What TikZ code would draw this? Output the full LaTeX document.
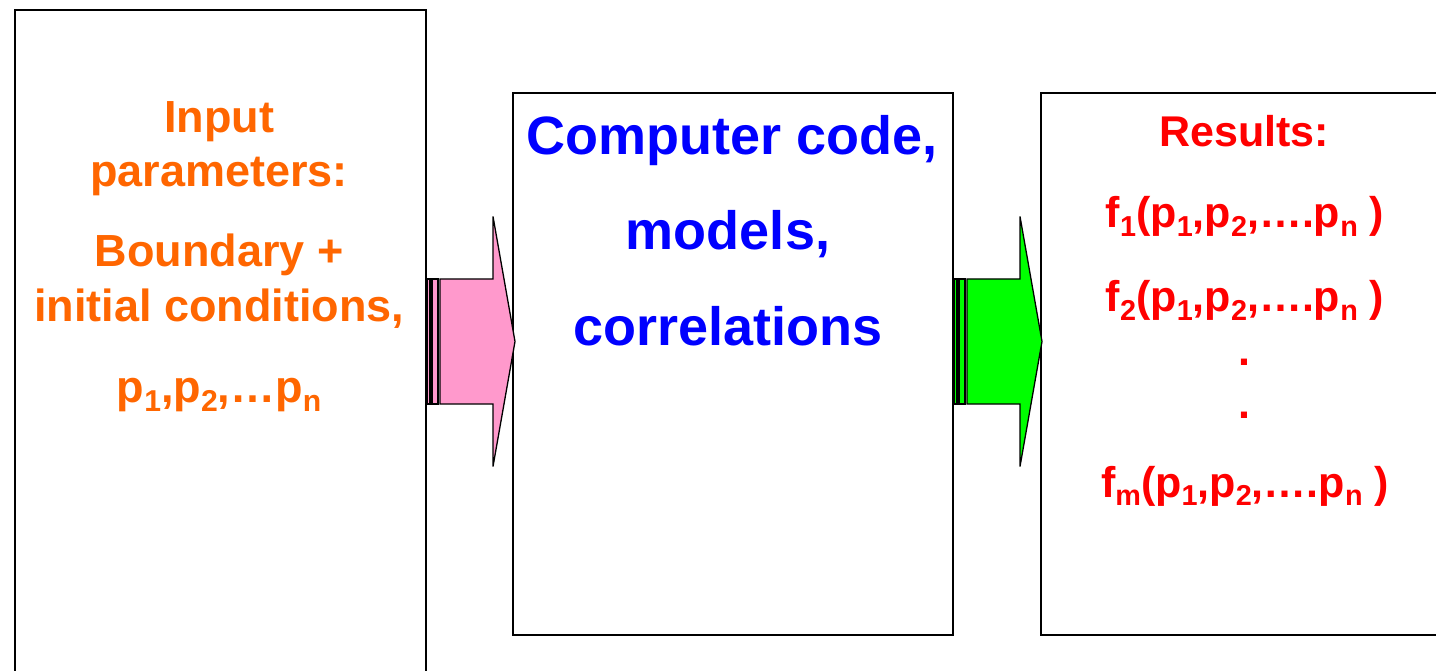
\documentclass[tikz,border=0pt]{standalone}
\usepackage{fontspec}
\setmainfont{Liberation Sans}
\usepackage{graphicx}
\definecolor{inorange}{HTML}{FF6600}
\definecolor{codeblue}{HTML}{0000FF}
\definecolor{resred}{HTML}{FF0000}
\definecolor{arrowpink}{HTML}{FF99CC}
\definecolor{arrowgreen}{HTML}{00FF00}
\newcommand\sbs[1]{\raisebox{-0.2em}{\scalebox{0.67}{#1}}}
\tikzset{
  boxframe/.style={draw=black, line width=2pt, fill=white, rectangle, inner sep=0pt, anchor=north west},
  orangetxt/.style={anchor=base, inner sep=0pt, text=inorange, font=\fontsize{45}{54}\selectfont\bfseries},
  bluetxt/.style={anchor=base, inner sep=0pt, text=codeblue, font=\fontsize{54}{64}\selectfont\bfseries},
  redtxt/.style={anchor=base, inner sep=0pt, text=resred, font=\fontsize{43}{52}\selectfont\bfseries},
  blockarrow/.pic={
    \path[pic actions] (13,-62.5) -- (66,-62.5) -- (66,-125) -- (88,0) -- (66,125) -- (66,62.5) -- (13,62.5) -- cycle;
    \path[pic actions] (0,-62.5) rectangle (3,62.5);
    \path[pic actions] (5,-62.5) rectangle (11,62.5);
  }
}
\begin{document}
\begin{tikzpicture}[x=1pt,y=-1pt]
\useasboundingbox (0,0) rectangle (1436,671);
\clip (0,0) rectangle (1436,671);
% boxes
\node[boxframe, minimum width=411pt, minimum height=680pt] (box1) at (14,9) {};
\node[boxframe, minimum width=440pt, minimum height=542pt] (box2) at (512,92) {};
\node[boxframe, minimum width=420pt, minimum height=542pt] (box3) at (1040,92) {};
% block arrows
\pic[fill=arrowpink, draw=black, line width=1.3pt] (arrowA) at (box1.east |- 0,341.5) {blockarrow};
\pic[fill=arrowgreen, draw=black, line width=1.3pt] (arrowB) at (box2.east |- 0,341.5) {blockarrow};
% input text
\node[orangetxt] (in1) at (219,133) {Input};
\node[orangetxt] (in2) at (219,187) {parameters:};
\node[orangetxt] (in3) at (219,267) {Boundary +};
\node[orangetxt] (in4) at (219,322) {initial conditions,};
\node[orangetxt] (in5) at (219,402) {p\sbs{1},p\sbs{2},…p\sbs{n}};
% code text
\node[bluetxt] (c1) at (732,155) {Computer code,};
\node[bluetxt] (c2) at (728,250) {models,};
\node[bluetxt] (c3) at (728,345) {correlations};
% results text
\node[redtxt] (r1) at (1244,147) {Results:};
\node[redtxt] (r2) at (1245,228) {f\sbs{1}(p\sbs{1},p\sbs{2},….p\sbs{n} )};
\node[redtxt] (r3) at (1245,312) {f\sbs{2}(p\sbs{1},p\sbs{2},….p\sbs{n} )};
\node[redtxt] (r4) at (1244,365) {.};
\node[redtxt] (r5) at (1244,418) {.};
\node[redtxt] (r6) at (1245,497) {f\sbs{m}(p\sbs{1},p\sbs{2},….p\sbs{n} )};
\end{tikzpicture}
\end{document}
